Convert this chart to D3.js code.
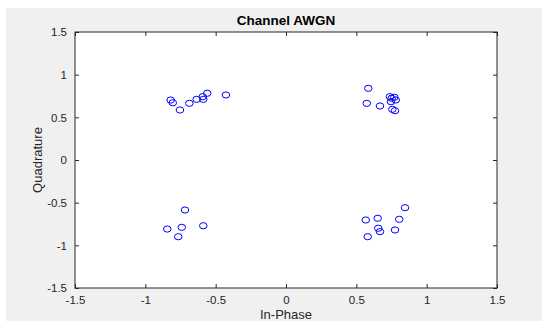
<!DOCTYPE html>
<html>
<head>
<meta charset="utf-8">
<script src="https://cdn.jsdelivr.net/npm/d3@7"></script>
<style>
  body { margin: 0; background: #fff; }
  svg text { font-family: "Liberation Sans", Arial, sans-serif; }
</style>
</head>
<body>
<div id="chart"></div>
<script>
// received symbols, one array per axis
var inPhase = [
  -0.82, -0.805, -0.754, -0.687, -0.635, -0.592, -0.588, -0.56, -0.427,
  0.585, 0.574, 0.668, 0.739, 0.751, 0.77, 0.78, 0.746, 0.756, 0.775,
  -0.718, -0.844, -0.741, -0.588, -0.766,
  0.846, 0.567, 0.652, 0.805, 0.656, 0.668, 0.775, 0.581
];
var quadrature = [
  0.703, 0.671, 0.586, 0.664, 0.711, 0.742, 0.711, 0.782, 0.762,
  0.84, 0.664, 0.633, 0.742, 0.723, 0.735, 0.703, 0.683, 0.594, 0.578,
  -0.586, -0.809, -0.789, -0.77, -0.899,
  -0.559, -0.703, -0.683, -0.695, -0.8, -0.84, -0.82, -0.899
];
var tickValues = [-1.5, -1, -0.5, 0, 0.5, 1, 1.5];

var W = 542, H = 321;
// plot box edges (window.top is reserved, so prefix them)
var plotL = 75, plotR = 497, plotT = 32, plotB = 288;
var axisColor = '#262626';

var svg = d3.select('#chart').append('svg')
  .attr('width', W).attr('height', H);

// figure background
svg.append('rect')
  .attr('x', 6).attr('y', 8)
  .attr('width', W - 6).attr('height', H - 8)
  .style('fill', '#f0f0f0');

// plot area
svg.append('rect')
  .attr('x', plotL).attr('y', plotT)
  .attr('width', plotR - plotL).attr('height', plotB - plotT)
  .style('fill', '#fff');

var x = d3.scaleLinear().domain([-1.5, 1.5]).range([plotL, plotR]);
var y = d3.scaleLinear().domain([-1.5, 1.5]).range([plotB, plotT]);

function fmt(d) { return String(d); }

function styleAxis(g) {
  g.select('.domain').remove();
  g.selectAll('line').attr('stroke', axisColor);
  g.selectAll('text')
    .style('font-size', '11.5px')
    .style('fill', axisColor);
}

svg.append('g')
  .attr('transform', 'translate(0,' + plotB + ')')
  .call(d3.axisBottom(x).tickValues(tickValues).tickFormat(fmt).tickSizeInner(-4).tickSizeOuter(0).tickPadding(8))
  .call(styleAxis);

svg.append('g')
  .attr('transform', 'translate(0,' + plotT + ')')
  .call(d3.axisTop(x).tickValues(tickValues).tickFormat('').tickSizeInner(-4).tickSizeOuter(0))
  .call(styleAxis);

svg.append('g')
  .attr('transform', 'translate(' + plotL + ',0)')
  .call(d3.axisLeft(y).tickValues(tickValues).tickFormat(fmt).tickSizeInner(-4).tickSizeOuter(0).tickPadding(8))
  .call(styleAxis);

svg.append('g')
  .attr('transform', 'translate(' + plotR + ',0)')
  .call(d3.axisRight(y).tickValues(tickValues).tickFormat('').tickSizeInner(-4).tickSizeOuter(0))
  .call(styleAxis);

// box
svg.append('rect')
  .attr('x', plotL).attr('y', plotT)
  .attr('width', plotR - plotL).attr('height', plotB - plotT)
  .style('fill', 'none')
  .style('stroke', axisColor)
  .style('stroke-width', 1);

// markers
svg.append('g').selectAll('ellipse')
  .data(inPhase)
  .enter().append('ellipse')
  .attr('cx', function(d) { return x(d); })
  .attr('cy', function(d, i) { return y(quadrature[i]); })
  .attr('rx', 3.8)
  .attr('ry', 3.1)
  .style('fill', 'none')
  .style('stroke', '#0000ff')
  .style('stroke-width', 1);

// title and labels
svg.append('text')
  .attr('x', (plotL + plotR) / 2).attr('y', 25)
  .attr('text-anchor', 'middle')
  .style('font-size', '13.5px')
  .style('font-weight', 'bold')
  .style('fill', '#000')
  .text('Channel AWGN');

svg.append('text')
  .attr('x', (plotL + plotR) / 2).attr('y', 319)
  .attr('text-anchor', 'middle')
  .style('font-size', '13px')
  .style('fill', axisColor)
  .text('In-Phase');

svg.append('text')
  .attr('transform', 'translate(42,' + ((plotT + plotB) / 2) + ') rotate(-90)')
  .attr('text-anchor', 'middle')
  .style('font-size', '13px')
  .style('fill', axisColor)
  .text('Quadrature');
</script>
</body>
</html>
